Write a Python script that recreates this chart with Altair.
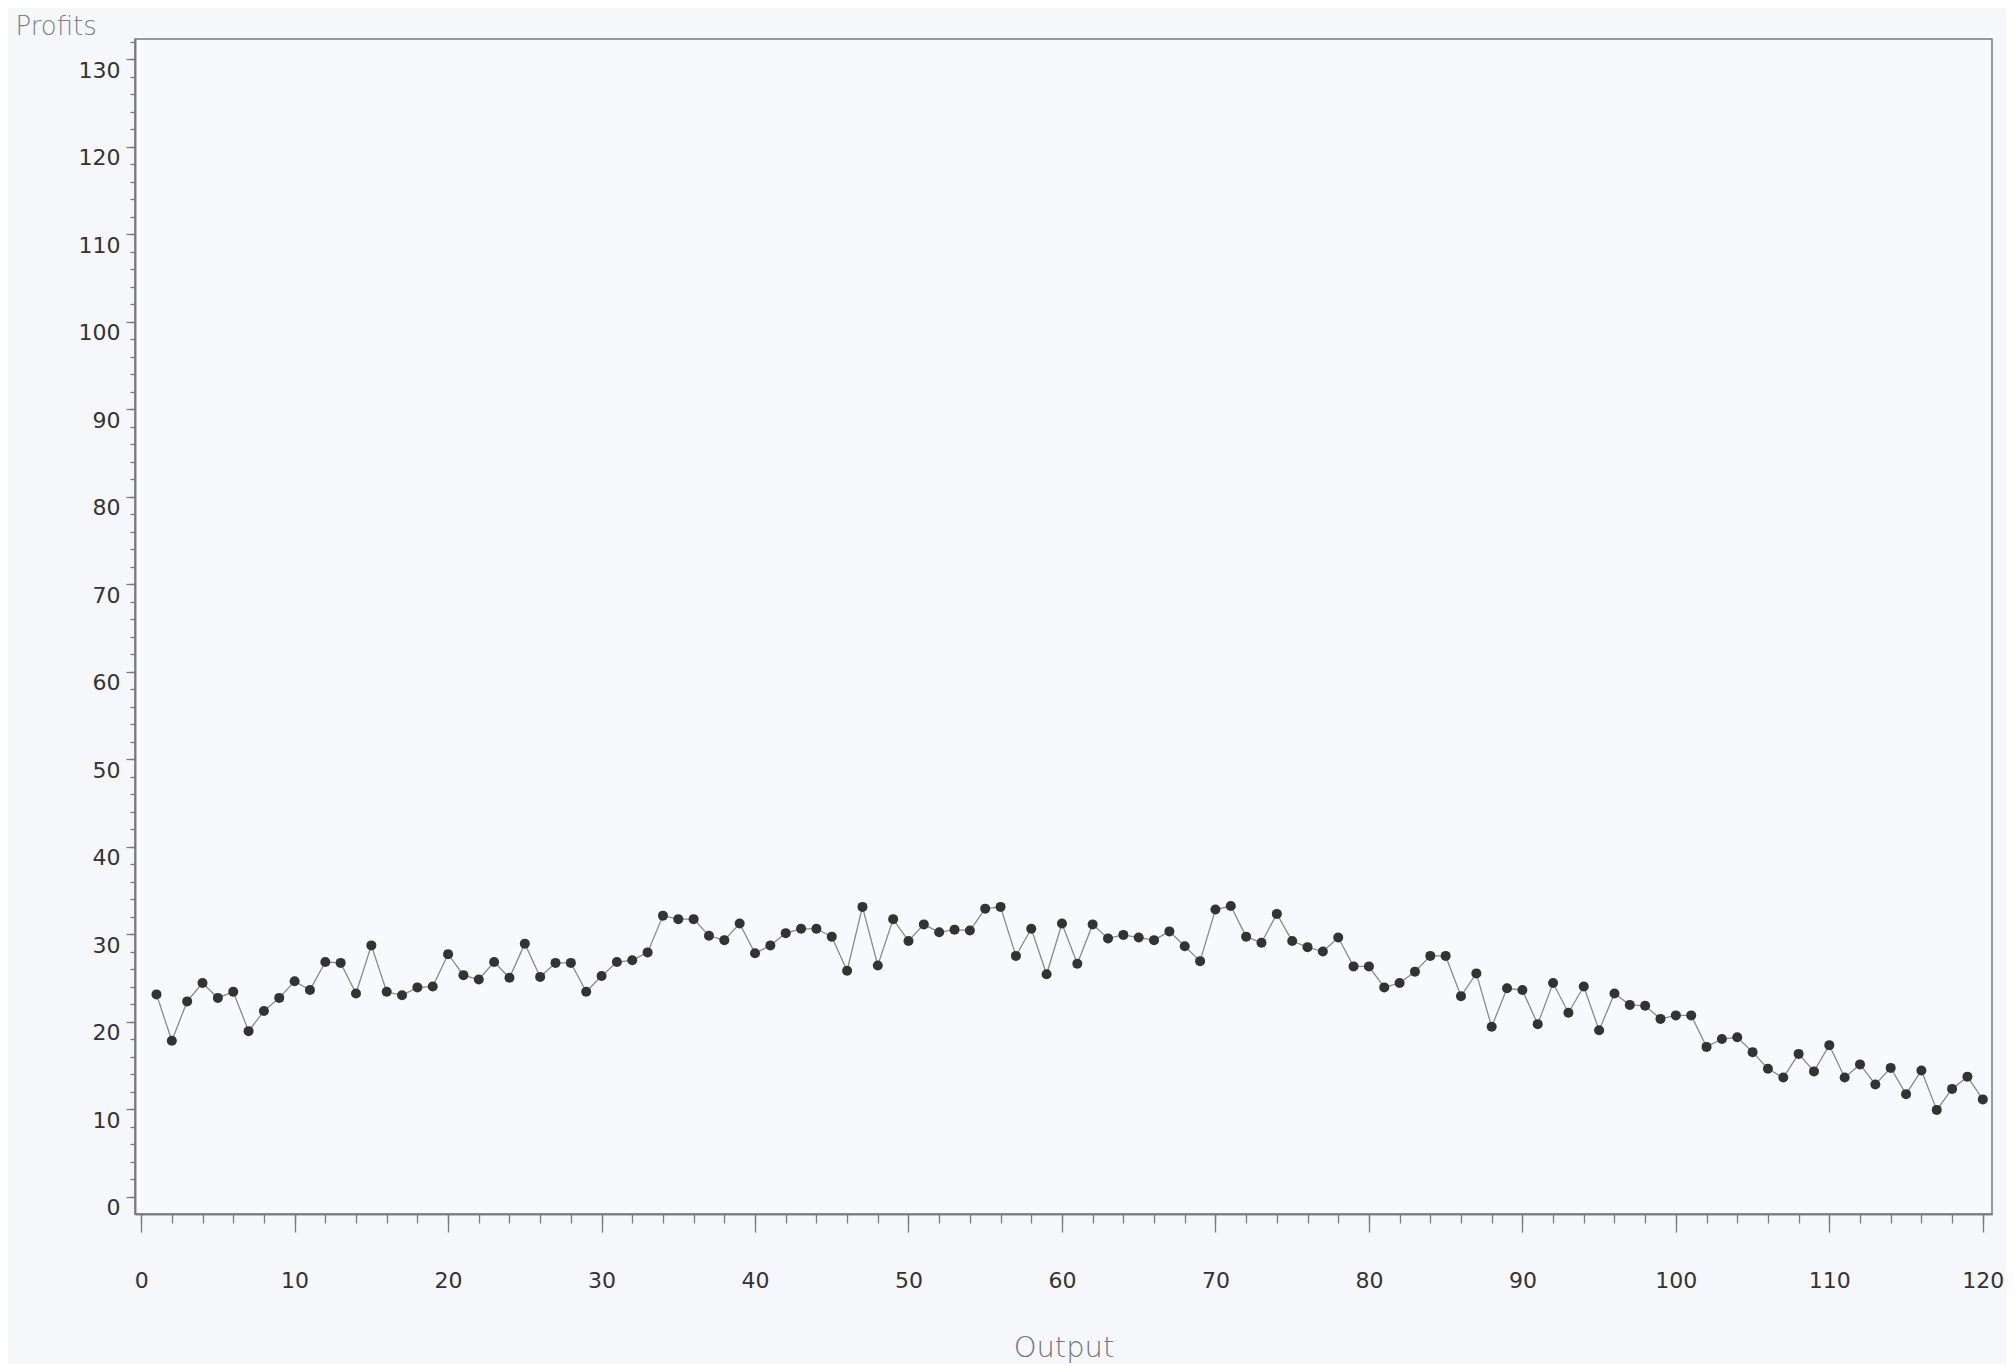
import altair as alt
import pandas as pd

output = list(range(1, 121))
profits = [
    23.1, 17.8, 22.3, 24.4, 22.7, 23.4, 18.9, 21.2, 22.7, 24.6,
    23.6, 26.8, 26.7, 23.2, 28.7, 23.4, 23.0, 23.9, 24.0, 27.7,
    25.3, 24.8, 26.8, 25.0, 28.9, 25.1, 26.7, 26.7, 23.4, 25.2,
    26.8, 27.0, 27.9, 32.1, 31.7, 31.7, 29.8, 29.3, 31.2, 27.8,
    28.7, 30.1, 30.6, 30.6, 29.7, 25.8, 33.1, 26.4, 31.7, 29.2,
    31.1, 30.2, 30.5, 30.4, 32.9, 33.1, 27.5, 30.6, 25.4, 31.2,
    26.6, 31.1, 29.5, 29.9, 29.6, 29.3, 30.3, 28.6, 26.9, 32.8,
    33.2, 29.7, 29.0, 32.3, 29.2, 28.5, 28.0, 29.6, 26.3, 26.3,
    23.9, 24.4, 25.7, 27.5, 27.5, 22.9, 25.5, 19.4, 23.8, 23.6,
    19.7, 24.4, 21.0, 24.0, 19.0, 23.2, 21.9, 21.8, 20.3, 20.7,
    20.7, 17.1, 18.0, 18.2, 16.5, 14.6, 13.6, 16.3, 14.3, 17.3,
    13.6, 15.1, 12.8, 14.7, 11.7, 14.4, 9.9, 12.3, 13.7, 11.1,
]

x_major = list(range(0, 121, 10))
x_minor = list(range(0, 121, 2))
y_major = list(range(0, 131, 10))
y_minor = list(range(0, 133, 2))

df = pd.DataFrame({"Output": output, "Profits": profits})

xscale = alt.Scale(domain=[-0.4, 120.6], nice=False, zero=False)
yscale = alt.Scale(domain=[-2, 132.3], nice=False, zero=False)

AXIS_COLOR = "#7a7a7a"
LABEL_FONT = "DejaVu Sans"
TITLE_FONT = "DejaVu Sans"

line = alt.Chart(df).mark_line(color="#8a8a8a", strokeWidth=1.3).encode(
    x=alt.X("Output:Q", scale=xscale,
            axis=alt.Axis(orient="bottom", values=x_minor, labels=False,
                          tickSize=9, tickWidth=1.3, tickColor=AXIS_COLOR,
                          domainColor=AXIS_COLOR, domainWidth=1.5,
                          grid=False, title=None)),
    y=alt.Y("Profits:Q", scale=yscale,
            axis=alt.Axis(orient="left", values=y_minor, labels=False,
                          tickSize=5, tickWidth=1.3, tickColor=AXIS_COLOR,
                          domainColor=AXIS_COLOR, domainWidth=1.5,
                          grid=False, title=None)),
)

points = alt.Chart(df).mark_circle(color="#333333", opacity=1, size=100).encode(
    x=alt.X("Output:Q", scale=xscale,
            axis=alt.Axis(orient="bottom", values=x_major, tickSize=18,
                          tickWidth=1.3, tickColor=AXIS_COLOR,
                          domainColor=AXIS_COLOR, domainWidth=1.5,
                          grid=False, labelFont=LABEL_FONT, labelFontSize=22,
                          labelColor="#333333", labelPadding=38,
                          labelFlush=False, labelOverlap=False,
                          title="Output", titleFont=TITLE_FONT,
                          titleFontSize=29, titleFontWeight=200,
                          titleColor="#777777", titleBaseline="alphabetic",
                          titleY=142)),
    y=alt.Y("Profits:Q", scale=yscale,
            axis=alt.Axis(orient="left", values=y_major, tickSize=9,
                          tickWidth=1.3, tickColor=AXIS_COLOR,
                          domainColor=AXIS_COLOR, domainWidth=1.5,
                          grid=False, labelFont=LABEL_FONT, labelFontSize=22,
                          labelColor="#333333", labelPadding=6,
                          labelOffset=11, labelBaseline="middle",
                          labelFlush=False, labelOverlap=False,
                          title="Profits", titleFont=TITLE_FONT,
                          titleFontSize=26, titleFontWeight=200,
                          titleColor="#808080", titleAngle=0,
                          titleAlign="left", titleBaseline="alphabetic",
                          titleX=-120, titleY=-5)),
)

chart = alt.layer(line, points).resolve_axis(
    x="independent", y="independent"
).properties(
    width=1857,
    height=1175,
    autosize=alt.AutoSizeParams(type="none"),
    padding={"left": 127, "top": 31, "right": 14, "bottom": 150},
    background="#f6f7fb",
).configure_view(
    stroke=AXIS_COLOR, strokeWidth=1.5, fill="#f8f9fc"
)

chart.save("out.html", embed_options={"renderer": "svg", "actions": False})
